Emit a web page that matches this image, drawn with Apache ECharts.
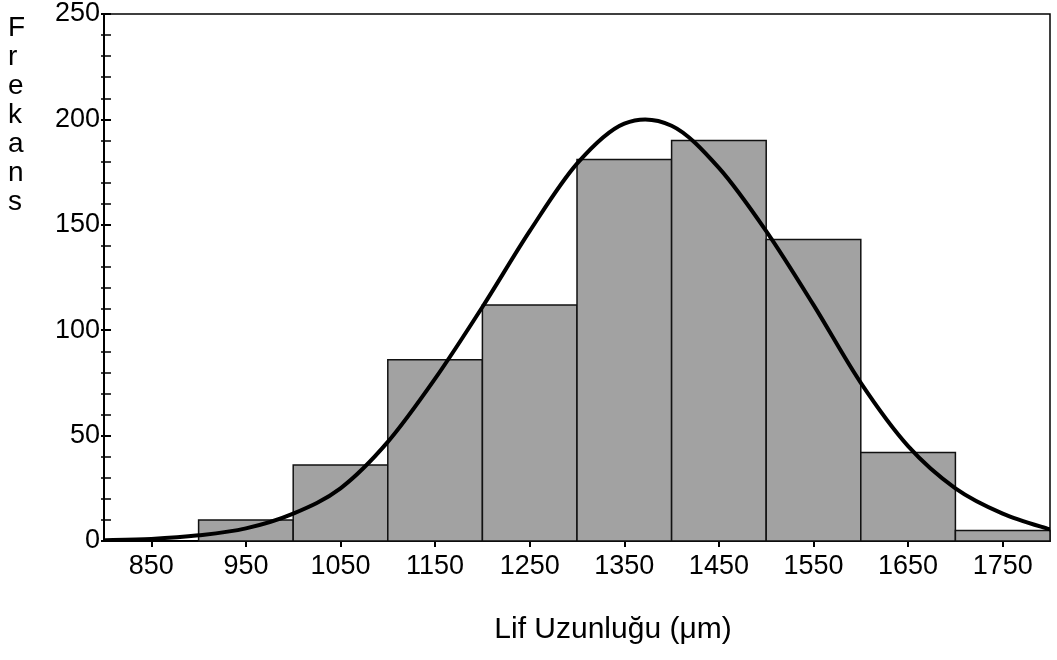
<!DOCTYPE html>
<html>
<head>
<meta charset="utf-8">
<script src="https://cdn.jsdelivr.net/npm/echarts@6/dist/echarts.min.js"></script>
<style>
  html, body { margin: 0; padding: 0; background: #fff; }
  #chart { width: 1057px; height: 660px; }
</style>
</head>
<body>
<div id="chart"></div>
<script>
// Histogram bins (fibre length, µm) and their frequencies
const binStart = [900, 1000, 1100, 1200, 1300, 1400, 1500, 1600, 1700];
const binWidth = 100;
const counts   = [10, 36, 86, 112, 181, 190, 143, 42, 5];

// Fitted normal curve, sampled along the length axis
const curveX = [800, 850, 900, 950, 1000, 1050, 1100, 1150, 1200, 1250, 1300, 1350, 1400, 1450, 1500, 1550, 1600, 1650, 1700, 1750, 1800];
const curveY = [0.4, 1, 2.7, 6, 13, 25, 47, 77, 111, 147, 179, 198, 197, 177, 147, 112, 75, 45, 25, 13, 5.5];

// Axis tick labels
const xTickValues = [850, 950, 1050, 1150, 1250, 1350, 1450, 1550, 1650, 1750];
const yTickValues = [0, 50, 100, 150, 200, 250];

const FONT = '"Liberation Sans", Arial, Helvetica, sans-serif';

const barData = binStart.map((s, i) => [s, s + binWidth, counts[i]]);
const curveData = curveX.map((x, i) => [x, curveY[i]]);

// Catmull-Rom spline through pixel points, written as cubic Bézier path data
function splinePath(pts) {
  let d = 'M' + pts[0][0] + ' ' + pts[0][1];
  for (let i = 0; i < pts.length - 1; i++) {
    const p0 = pts[Math.max(i - 1, 0)];
    const p1 = pts[i];
    const p2 = pts[i + 1];
    const p3 = pts[Math.min(i + 2, pts.length - 1)];
    const c1x = p1[0] + (p2[0] - p0[0]) / 6, c1y = p1[1] + (p2[1] - p0[1]) / 6;
    const c2x = p2[0] - (p3[0] - p1[0]) / 6, c2y = p2[1] - (p3[1] - p1[1]) / 6;
    d += ' C' + c1x + ' ' + c1y + ' ' + c2x + ' ' + c2y + ' ' + p2[0] + ' ' + p2[1];
  }
  return d;
}

const chart = echarts.init(document.getElementById('chart'), null, { renderer: 'canvas' });

chart.setOption({
  backgroundColor: '#ffffff',
  animation: false,
  grid: {
    left: 104, right: 7, top: 14, bottom: 119,
    show: true, borderColor: '#000', borderWidth: 1.5,
    backgroundColor: 'transparent'
  },
  xAxis: {
    type: 'value', min: 800, max: 1800,
    axisLine: { show: true, lineStyle: { color: '#000', width: 2 } },
    axisTick: { show: true, inside: false, length: 6, lineStyle: { color: '#000', width: 2 }, customValues: xTickValues },
    axisLabel: {
      show: true, customValues: xTickValues, color: '#000', fontSize: 27, fontFamily: FONT, margin: 12,
      formatter: v => String(v)
    },
    splitLine: { show: false }
  },
  yAxis: [
    {
      type: 'value', min: 0, max: 250, interval: 50,
      axisLine: { show: true, lineStyle: { color: '#000', width: 2 } },
      axisTick: { show: true, inside: true, length: 7, lineStyle: { color: '#000', width: 2 } },
      minorTick: { show: true, splitNumber: 5, length: 7, lineStyle: { color: '#000', width: 1.5 } },
      axisLabel: {
        color: '#000', fontSize: 27, fontFamily: FONT, margin: 4,
        formatter: v => yTickValues.includes(v) ? String(v) : ''
      },
      splitLine: { show: false }
    },
    {
      // short outward stubs so each tick crosses the axis line
      type: 'value', min: 0, max: 250, interval: 50, position: 'left', offset: 0,
      axisLine: { show: false },
      axisTick: { show: true, inside: false, length: 3, lineStyle: { color: '#000', width: 2 } },
      minorTick: { show: true, splitNumber: 5, length: 3, lineStyle: { color: '#000', width: 1.5 } },
      axisLabel: { show: false },
      splitLine: { show: false }
    }
  ],
  graphic: [
    {
      type: 'text', left: 8, top: 14,
      style: {
        text: 'F\nr\ne\nk\na\nn\ns', fill: '#000',
        font: '28px ' + FONT, lineHeight: 29, align: 'center'
      }
    },
    {
      type: 'text', x: 613, y: 630,
      style: {
        text: 'Lif Uzunluğu (μm)', fill: '#000',
        font: '30px ' + FONT, align: 'center', verticalAlign: 'middle'
      }
    }
  ],
  series: [
    {
      type: 'custom',
      data: barData,
      encode: { x: [0, 1], y: 2 },
      z: 2,
      renderItem: (params, api) => {
        const p0 = api.coord([api.value(0), 0]);
        const p1 = api.coord([api.value(1), api.value(2)]);
        return {
          type: 'rect',
          shape: { x: p0[0], y: p1[1], width: p1[0] - p0[0], height: p0[1] - p1[1] },
          style: { fill: '#a2a2a2', stroke: '#111', lineWidth: 1.5 }
        };
      }
    },
    {
      // smooth fitted curve, drawn once through the axis coordinates
      type: 'custom',
      data: [curveData[0]],
      encode: { x: 0, y: 1 },
      z: 5,
      clip: true,
      renderItem: (params, api) => {
        const pts = curveData.map(p => api.coord(p));
        return {
          type: 'path',
          shape: { pathData: splinePath(pts) },
          style: { fill: null, stroke: '#000', lineWidth: 4, lineJoin: 'round', lineCap: 'round' }
        };
      }
    }
  ]
});
</script>
</body>
</html>
